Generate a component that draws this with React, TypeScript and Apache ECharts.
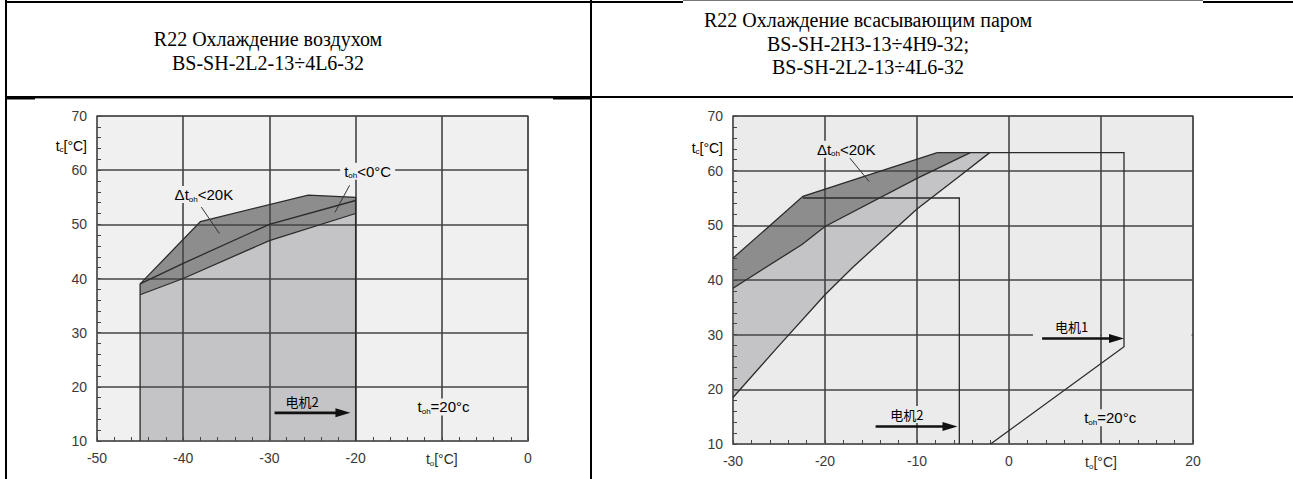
import React, { useEffect, useRef } from "react";
import * as echarts from "echarts";

type P = [number, number];

// ---------- header texts ----------
const headerLeft = ["R22 Охлаждение воздухом", "BS-SH-2L2-13÷4L6-32"];
const headerRight = ["R22 Охлаждение всасывающим паром", "BS-SH-2H3-13÷4H9-32;", "BS-SH-2L2-13÷4L6-32"];

// ---------- left chart (air cooling) ----------
const leftXRange = [-50, 0];
const leftYRange = [10, 70];
const leftUpperEdge: P[] = [[-45, 39], [-38, 50.5], [-25.5, 55.4], [-20, 55]];
const leftMidLine: P[] = [[-45, 39], [-40, 42.8], [-30, 50], [-20, 54.4]];
const leftLowerEdge: P[] = [[-45, 37], [-40, 40], [-30, 47], [-20, 52]];
const leftFloor: P[] = [[-45, 10], [-20, 10]];
const leftPointers: P[][] = [[[-37.9, 53.2], [-35.8, 48.3]], [[-20.7, 57.2], [-22.4, 52.2]]];
const leftArrows: number[][] = [[-29.4, -20.6, 15.2]]; // x from, x to, y
const leftNotes: [number, number, string][] = [
  [-37.6, 55.5, "{t|Δt}{s|oh}{t|<20K}"],
  [-18.6, 59.8, "{t|t}{s|oh}{t|<0°C}"],
  [-9.8, 16.3, "{t|t}{s|oh}{t|=20°c}"],
  [-26.2, 17.3, "{c|电机2}"],
];

// ---------- right chart (suction gas cooling) ----------
const rightXRange = [-30, 20];
const rightYRange = [10, 70];
const rightUpperEdge: P[] = [[-30, 44], [-22.4, 55.3], [-7.8, 63.3]];
const rightMidLine: P[] = [[-30, 38.5], [-22.5, 46.5], [-20, 49.8], [-10, 58.6], [-4.2, 63.3]];
const rightLowerEdge: P[] = [[-30, 18.5], [-25, 28], [-20, 37.3], [-17, 42.3], [-10, 53], [-5, 59.5], [-2.1, 63.3]];
const motor1Limit: P[] = [[-7.8, 63.3], [12.5, 63.3], [12.5, 27.8], [-2, 10]];
const motor2Limit: P[] = [[-22.4, 55], [-5.4, 55], [-5.4, 10]];
const rightPointers: P[][] = [[[-17.3, 62.3], [-15.2, 58]]];
const rightArrows: number[][] = [[-14.5, -5.6, 13.2], [3.6, 12.5, 29.3]];
const rightNotes: [number, number, string][] = [
  [-17.7, 63.9, "{t|Δt}{s|oh}{t|<20K}"],
  [-11.1, 15.4, "{c|电机2}"],
  [6.8, 31.5, "{c|电机1}"],
  [11.0, 14.8, "{t|t}{s|oh}{t|=20°c}"],
];
// the 30 °C grid line is interrupted to the right of the 电机1 arrow
const rightGridGaps: P[][] = [
  [[2.6, 29.6], [9.9, 29.6], [9.9, 30.4], [2.6, 30.4]],
  [[10.1, 29.6], [19.85, 29.6], [19.85, 30.4], [10.1, 30.4]],
];

// axis captions
const xCaptionAt = [-10, 10];
const yCaptionAt = [64.5, 64.2];

const LEFT_BG = "#f0f0f0";
const RIGHT_BG = "#ebebeb";
const DARK = "#8d8d8d";
const LIGHT = "#c4c4c6";
const GRIDLINE = "#444444";
const SANS = "Liberation Sans";
const CJK = "Noto Sans CJK SC";

const rich = {
  t: { fontSize: 15, fontFamily: SANS, color: "#2a2a2a", lineHeight: 17 },
  s: { fontSize: 8, fontFamily: SANS, color: "#2a2a2a", lineHeight: 8, verticalAlign: "bottom" },
  c: { fontSize: 13, fontFamily: CJK, color: "#555", lineHeight: 17 },
};
const axisRich = {
  t: { fontSize: 14, fontFamily: SANS, color: "#2a2a2a", lineHeight: 16 },
  s: { fontSize: 8, fontFamily: SANS, color: "#2a2a2a", lineHeight: 8, verticalAlign: "bottom" },
};

const rev = (a: P[]) => a.slice().reverse();

function polygonSeries(g: number, pts: P[], fill: string, z = 2) {
  return {
    type: "custom", xAxisIndex: g, yAxisIndex: g, silent: true, z,
    data: [pts[0]],
    renderItem: (_p: any, api: any) => ({
      type: "polygon",
      shape: { points: pts.map((p) => api.coord(p)) },
      style: { fill, stroke: "none" },
    }),
  };
}

function polylineSeries(g: number, pts: P[], color = "#2b2b2b", width = 1.3, z = 4) {
  return {
    type: "custom", xAxisIndex: g, yAxisIndex: g, silent: true, z,
    data: [pts[0]],
    renderItem: (_p: any, api: any) => ({
      type: "polyline",
      shape: { points: pts.map((p) => api.coord(p)) },
      style: { stroke: color, lineWidth: width, fill: "none" },
    }),
  };
}

function arrowSeries(g: number, arrows: number[][]) {
  return {
    type: "custom", xAxisIndex: g, yAxisIndex: g, silent: true, z: 5,
    data: arrows.map((a) => [a[0], a[2], a[1]]),
    renderItem: (_p: any, api: any) => {
      const a = api.coord([api.value(0), api.value(1)]);
      const b = api.coord([api.value(2), api.value(1)]);
      return {
        type: "group",
        children: [
          { type: "line", shape: { x1: a[0], y1: a[1], x2: b[0] - 10, y2: b[1] }, style: { stroke: "#111", lineWidth: 2.6 } },
          { type: "polygon", shape: { points: [[b[0], b[1]], [b[0] - 15, b[1] - 4.5], [b[0] - 15, b[1] + 4.5]] }, style: { fill: "#111" } },
        ],
      };
    },
  };
}

function noteSeries(g: number, notes: [number, number, string][], bg: string) {
  return {
    type: "custom", xAxisIndex: g, yAxisIndex: g, silent: true, z: 6,
    data: notes.map((n) => [n[0], n[1]]),
    renderItem: (p: any, api: any) => {
      const c = api.coord([api.value(0), api.value(1)]);
      const n = notes[p.dataIndex];
      const isCjk = n[2].startsWith("{c|");
      return {
        type: "text", x: c[0], y: c[1],
        style: {
          text: n[2], rich, align: "center", verticalAlign: "middle",
          backgroundColor: isCjk && g === 0 ? undefined : bg, padding: [0, 4],
        },
      };
    },
  };
}

function captionSeries(g: number, y: number, xMin: number) {
  return {
    type: "custom", xAxisIndex: g, yAxisIndex: g, silent: true, z: 6, clip: false,
    data: [[xMin, y]],
    renderItem: (_p: any, api: any) => {
      const c = api.coord([api.value(0), api.value(1)]);
      return {
        type: "text", x: c[0] - 10, y: c[1],
        style: { text: "{t|t}{s|c}{t|[°C]}", rich: axisRich, align: "right", verticalAlign: "middle" },
      };
    },
  };
}

function xAxis(g: number, range: number[], captionAt: number) {
  return {
    type: "value", gridIndex: g, min: range[0], max: range[1], interval: 10, z: 3,
    axisLine: { show: true, onZero: false, lineStyle: { color: "#666", width: 1.5 } },
    axisTick: { show: true, inside: true, length: 4, lineStyle: { color: "#444" } },
    minorTick: { show: true, splitNumber: 5, length: 4, lineStyle: { color: "#444" } },
    splitLine: { show: true, lineStyle: { color: GRIDLINE, width: 1.6 } },
    axisLabel: {
      show: true, margin: 10, color: "#3a3a3a", fontSize: 14, fontFamily: SANS,
      showMinLabel: true, showMaxLabel: true,
      formatter: (v: number) => (v === captionAt ? "{t|t}{s|o}{t|[°C]}" : String(v)),
      rich: axisRich,
    },
  };
}

function yAxis(g: number, range: number[]) {
  return {
    type: "value", gridIndex: g, min: range[0], max: range[1], interval: 10, z: 3,
    axisLine: { show: true, onZero: false, lineStyle: { color: "#666", width: 1.5 } },
    axisTick: { show: true, inside: true, length: 4, lineStyle: { color: "#444" } },
    minorTick: { show: true, splitNumber: 5, length: 4, lineStyle: { color: "#444" } },
    splitLine: { show: true, lineStyle: { color: GRIDLINE, width: 1.6 } },
    axisLabel: { show: true, margin: 10, color: "#3a3a3a", fontSize: 14, fontFamily: SANS, showMinLabel: true, showMaxLabel: true },
  };
}

function tableGraphics() {
  const els: any[] = [];
  const rect = (x: number, y: number, w: number, h: number, fill = "#000") =>
    els.push({ type: "rect", silent: true, shape: { x, y, width: w, height: h }, style: { fill }, z: 10 });
  rect(5, 0, 2, 479); // left border
  rect(590, 0, 2, 479); // column divider
  rect(5, 1, 678, 2); // top border
  rect(683, 0, 520, 1, "#777");
  rect(1203, 1, 90, 2);
  rect(5, 96, 1288, 2); // header bottom
  rect(7, 98, 28, 1.5);
  rect(553, 98, 37, 1.5);
  rect(35, 98, 518, 1, "#999");
  headerLeft.forEach((t, i) =>
    els.push({ type: "text", silent: true, z: 10, x: 268, y: 39 + i * 24,
      style: { text: t, fill: "#000", font: '20px "Liberation Serif"', align: "center", verticalAlign: "middle" } }));
  headerRight.forEach((t, i) =>
    els.push({ type: "text", silent: true, z: 10, x: 868, y: 20 + i * 23.5,
      style: { text: t, fill: "#000", font: '20px "Liberation Serif"', align: "center", verticalAlign: "middle" } }));
  return els;
}

export default function App() {
  const ref = useRef<HTMLDivElement>(null);
  useEffect(() => {
    if (!ref.current) return;
    const chart = echarts.init(ref.current, undefined, { renderer: "svg" });
    const option: any = {
      animation: false,
      backgroundColor: "#ffffff",
      grid: [
        { left: 97, top: 116, width: 431, height: 325, show: true, backgroundColor: LEFT_BG, borderColor: "#8a8a8a", borderWidth: 1.5 },
        { left: 733, top: 116, width: 460, height: 328, show: true, backgroundColor: RIGHT_BG, borderColor: "#8a8a8a", borderWidth: 1.5 },
      ],
      xAxis: [xAxis(0, leftXRange, xCaptionAt[0]), xAxis(1, rightXRange, xCaptionAt[1])],
      yAxis: [yAxis(0, leftYRange), yAxis(1, rightYRange)],
      series: [
        // left chart
        polygonSeries(0, [leftFloor[0], ...leftLowerEdge, leftFloor[1]], LIGHT),
        polygonSeries(0, [...leftUpperEdge, ...rev(leftLowerEdge)], DARK),
        polylineSeries(0, [leftFloor[0], ...leftUpperEdge, leftFloor[1]]),
        polylineSeries(0, leftMidLine),
        polylineSeries(0, leftLowerEdge),
        ...leftPointers.map((p) => polylineSeries(0, p, "#333", 1)),
        arrowSeries(0, leftArrows),
        noteSeries(0, leftNotes, LEFT_BG),
        captionSeries(0, yCaptionAt[0], leftXRange[0]),
        // right chart
        polygonSeries(1, [...rightUpperEdge, ...rev(rightMidLine)], DARK),
        polygonSeries(1, [...rightMidLine, ...rev(rightLowerEdge)], LIGHT),
        ...rightGridGaps.map((g) => polygonSeries(1, g, RIGHT_BG, 3.5)),
        polylineSeries(1, rightUpperEdge),
        polylineSeries(1, rightMidLine),
        polylineSeries(1, rightLowerEdge),
        polylineSeries(1, motor1Limit),
        polylineSeries(1, motor2Limit),
        ...rightPointers.map((p) => polylineSeries(1, p, "#333", 1)),
        arrowSeries(1, rightArrows),
        noteSeries(1, rightNotes, RIGHT_BG),
        captionSeries(1, yCaptionAt[1], rightXRange[0]),
      ],
      graphic: tableGraphics(),
    };
    chart.setOption(option);
    return () => chart.dispose();
  }, []);
  return <div ref={ref} style={{ position: "absolute", left: 0, top: 0, width: 1293, height: 479 }} />;
}
